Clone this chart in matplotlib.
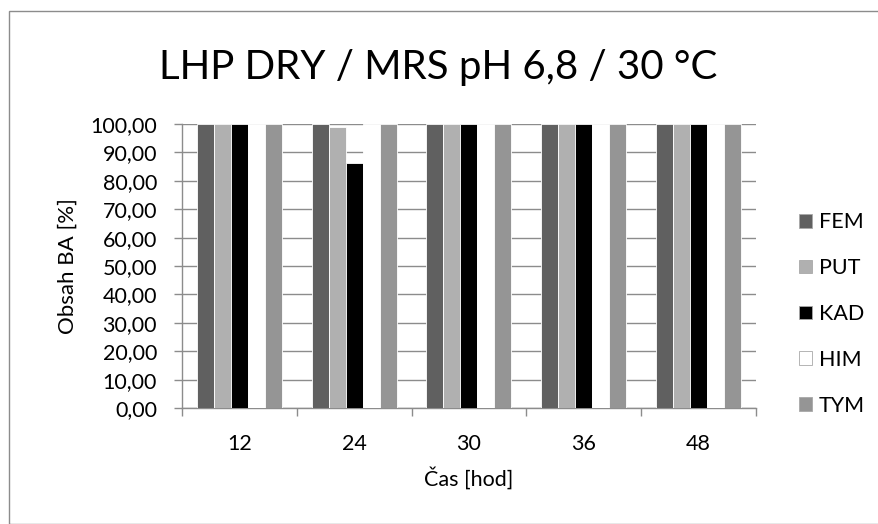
import matplotlib
matplotlib.use("Agg")
import matplotlib.pyplot as plt
import numpy as np
from matplotlib.patches import Rectangle

plt.rcParams['font.family'] = ['Lato', 'DejaVu Sans']

times = ["12", "24", "30", "36", "48"]
series = ["FEM", "PUT", "KAD", "HIM", "TYM"]
fem = [100.0, 100.0, 100.0, 100.0, 100.0]
put = [100.0, 98.8, 100.0, 100.0, 100.0]
kad = [100.0, 86.3, 100.0, 100.0, 100.0]
him = [100.0, 100.0, 100.0, 100.0, 100.0]
tym = [100.0, 100.0, 100.0, 100.0, 100.0]
colors = ["#606060", "#b0b0b0", "#000000", "#ffffff", "#959595"]
yticks = [0, 10, 20, 30, 40, 50, 60, 70, 80, 90, 100]

W, H = 879, 524
fig = plt.figure(figsize=(W / 100, H / 100), dpi=100)
fig.patch.set_facecolor("white")

# chart frame
fig.add_artist(Rectangle((9 / W, 0), 1, 1 - 11 / H, transform=fig.transFigure,
                         fill=False, edgecolor="#8c8c8c", linewidth=1.0))

ax = fig.add_axes([182 / W, (H - 408) / H, (756 - 182) / W, (408 - 124) / H])

data = [fem, put, kad, him, tym]
n = len(series)
x = np.arange(len(times))
bw = 17 / 114.8
for i, (vals, c, name) in enumerate(zip(data, colors, series)):
    offs = (i - (n - 1) / 2) * bw
    ax.bar(x + offs, vals, width=bw, color=c, edgecolor="white",
           linewidth=0.6, zorder=3, label=name)

fs = 15.5
ax.set_xlim(-0.5, len(times) - 0.5)
ax.set_ylim(0, 100)
ax.set_yticks(yticks)
ax.set_yticklabels([f"{v:.2f}".replace(".", ",") for v in yticks], fontsize=fs)
ax.set_xticks(x)
ax.set_xticklabels(times, fontsize=fs)
ax.set_xticks(np.arange(len(times) + 1) - 0.5, minor=True)
ax.tick_params(axis="x", which="major", length=0, pad=19)
ax.tick_params(axis="x", which="minor", length=6, color="#8c8c8c", width=1)
ax.tick_params(axis="y", length=6, color="#8c8c8c", width=1, pad=12)
ax.grid(axis="y", color="#8c8c8c", linewidth=1.0, zorder=0)
ax.set_axisbelow(True)
for s in ["top", "right"]:
    ax.spines[s].set_visible(False)
for s in ["left", "bottom"]:
    ax.spines[s].set_color("#8c8c8c")
    ax.spines[s].set_linewidth(1.0)

ax.set_ylabel("Obsah BA [%]", fontsize=16, labelpad=9)
ax.set_xlabel("Čas [hod]", fontsize=fs, labelpad=9)

fig.text(438 / W, 1 - 68 / H, "LHP DRY / MRS pH 6,8 / 30 °C", ha="center",
         va="center", fontsize=29)

handles, labels = ax.get_legend_handles_labels()
leg = fig.legend(handles, labels, loc="center left",
                 bbox_to_anchor=(780 / W, 1 - 314 / H), frameon=False,
                 fontsize=fs, handlelength=0.6, handleheight=0.6,
                 handletextpad=0.3, labelspacing=1.2)
for h in leg.legend_handles:
    h.set_edgecolor("#a8a8a8")
    h.set_linewidth(0.6)

fig.savefig("out.png", dpi=100)
